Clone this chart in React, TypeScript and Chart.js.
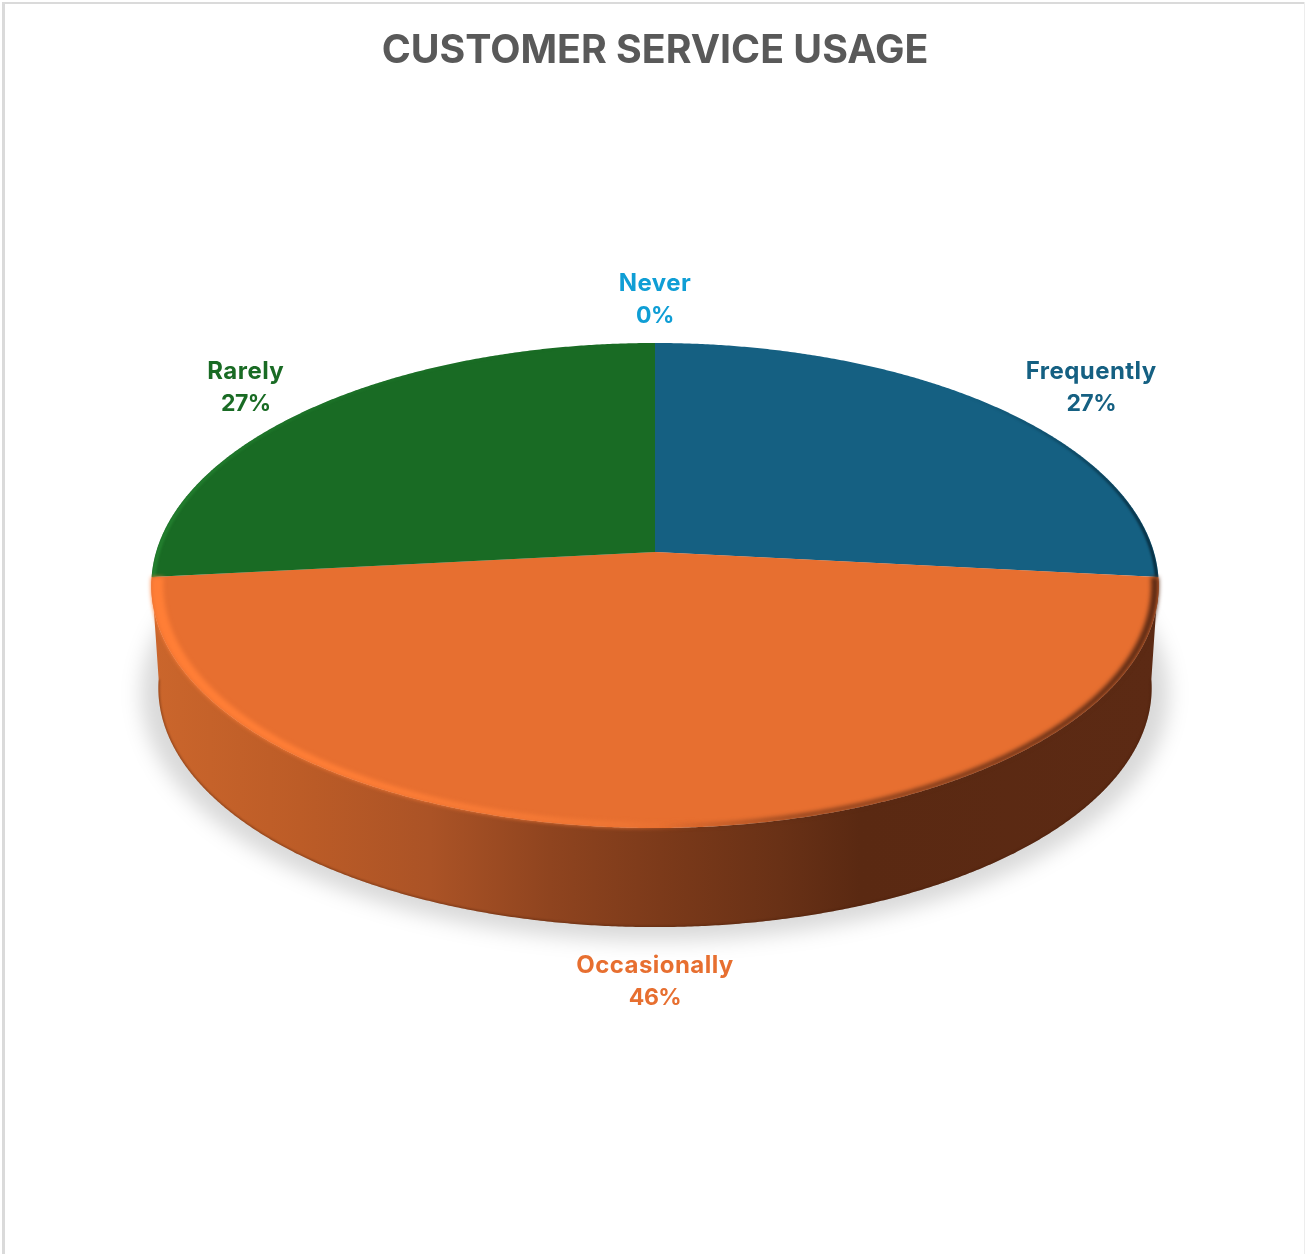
import React, { useEffect, useRef } from "react";
import { Chart, registerables } from "chart.js";

Chart.register(...registerables);

const titleText = "CUSTOMER SERVICE USAGE";
const categories = ["Frequently", "Occasionally", "Rarely", "Never"];
const shares = [27, 46, 27, 0];
const sliceColors = ["#156082", "#E76F30", "#196B24", "#0F9ED5"];

const FONT = "Inter";

// Tilted disc: the rim is an ellipse and the slices meet at an apex above its centre.
const DISC = { rx: 503.7, ry: 242.5, midY: 585.5, apexY: 552, flatten: 0.393 };
const WALL = { shrink: 0.986, drop: 102.5 };

type Pt = [number, number];

// Rim point for a pie angle: cast a ray from the apex to the ellipse.
function ringPoint(cx: number, theta: number, scale = 1, drop = 0): Pt {
  const dx = Math.cos(theta);
  const dy = DISC.flatten * Math.sin(theta);
  const oy = DISC.apexY - DISC.midY;
  const A = (dx * dx) / (DISC.rx * DISC.rx) + (dy * dy) / (DISC.ry * DISC.ry);
  const B = (2 * oy * dy) / (DISC.ry * DISC.ry);
  const C = (oy * oy) / (DISC.ry * DISC.ry) - 1;
  const t = (-B + Math.sqrt(B * B - 4 * A * C)) / (2 * A);
  const x = t * dx;
  const y = oy + t * dy;
  return [cx + x * scale, DISC.midY + y * scale + drop];
}

function ringSamples(cx: number, a: number, b: number, scale = 1, drop = 0): Pt[] {
  const steps = Math.max(2, Math.ceil(Math.abs(b - a) / 0.005));
  const pts: Pt[] = [];
  for (let i = 0; i <= steps; i++) pts.push(ringPoint(cx, a + ((b - a) * i) / steps, scale, drop));
  return pts;
}

function tracePolygon(ctx: CanvasRenderingContext2D, pts: Pt[], close = true) {
  ctx.beginPath();
  pts.forEach(([x, y], i) => (i ? ctx.lineTo(x, y) : ctx.moveTo(x, y)));
  if (close) ctx.closePath();
}

function hGradient(ctx: CanvasRenderingContext2D, stops: [number, string][]) {
  const x0 = stops[0][0];
  const x1 = stops[stops.length - 1][0];
  const g = ctx.createLinearGradient(x0, 0, x1, 0);
  stops.forEach(([x, c]) => g.addColorStop((x - x0) / (x1 - x0), c));
  return g;
}

// Draws the pie as a solid disc from the angles the doughnut controller computed.
const discPlugin = {
  id: "solidDisc",
  beforeDraw(chart: any) {
    const { ctx, width, height } = chart;
    ctx.save();
    ctx.fillStyle = "#FFFFFF";
    ctx.fillRect(0, 0, width, height);
    ctx.fillStyle = "#DADADA";
    ctx.fillRect(2, 2, width - 3, 2);
    ctx.fillRect(2, 2, 3, height - 2);
    ctx.fillStyle = "#EDEDED";
    ctx.fillRect(width - 2, 2, 1, height - 2);
    ctx.restore();
  },
  beforeDatasetsDraw(chart: any) {
    const { ctx } = chart;
    const arcs = chart.getDatasetMeta(0).data;
    const cx = arcs[0].x;
    const TAU = Math.PI * 2;

    // Soft cast shadow under the disc
    ctx.save();
    ctx.filter = "blur(10px)";
    ctx.fillStyle = "rgba(0,0,0,0.15)";
    tracePolygon(ctx, ringSamples(cx, 0, TAU, 1.02, 108));
    ctx.fill();
    ctx.restore();

    // Side wall of the front slice
    const front = arcs[1];
    const top = ringSamples(cx, front.startAngle, front.endAngle);
    const low = ringSamples(cx, front.endAngle, front.startAngle, WALL.shrink, WALL.drop);
    ctx.fillStyle = hGradient(ctx, [
      [150, "#CB662C"],
      [300, "#BC5C27"],
      [430, "#AB5326"],
      [550, "#8F441F"],
      [660, "#7C3A1A"],
      [780, "#693116"],
      [860, "#5A2912"],
      [1160, "#5C2A14"],
    ]);
    tracePolygon(ctx, [...top, ...low]);
    ctx.fill();
    // darker seam along the foot of the wall
    ctx.save();
    tracePolygon(ctx, [...top, ...low]);
    ctx.clip();
    ctx.filter = "blur(1px)";
    ctx.strokeStyle = "rgba(70,28,8,0.5)";
    ctx.lineWidth = 2;
    tracePolygon(ctx, low, false);
    ctx.stroke();
    ctx.restore();

    // Top face
    arcs.forEach((arc: any, i: number) => {
      if (arc.endAngle - arc.startAngle < 1e-6) return;
      const apex: Pt = [cx, DISC.apexY];
      ctx.fillStyle = sliceColors[i];
      tracePolygon(ctx, [apex, ...ringSamples(cx, arc.startAngle, arc.endAngle)]);
      ctx.fill();
    });

    // Bevel on the edge of the top face
    const band = (a: number, b: number, inner: number, fill: any, blur: number, clip: boolean) => {
      ctx.save();
      if (clip) {
        tracePolygon(ctx, ringSamples(cx, 0, TAU));
        ctx.clip();
      }
      ctx.filter = `blur(${blur}px)`;
      ctx.fillStyle = fill;
      tracePolygon(ctx, [...ringSamples(cx, a, b), ...ringSamples(cx, b, a, inner)]);
      ctx.fill();
      ctx.restore();
    };
    const [freq, occ, rare] = arcs;
    band(
      freq.startAngle,
      freq.endAngle,
      0.993,
      hGradient(ctx, [
        [960, "rgba(8,50,70,0)"],
        [1060, "rgba(8,50,70,0.5)"],
        [1160, "rgba(6,42,60,1)"],
      ]),
      1.2,
      true,
    );
    band(
      rare.startAngle,
      rare.endAngle,
      0.992,
      hGradient(ctx, [
        [150, "#23802F"],
        [300, "rgba(35,128,47,0.5)"],
        [560, "rgba(35,128,47,0)"],
      ]),
      1.2,
      true,
    );
    band(
      occ.startAngle,
      occ.endAngle,
      0.976,
      hGradient(ctx, [
        [150, "#FF7E36"],
        [350, "#FF7E36"],
        [500, "#F87B36"],
        [620, "#EF7634"],
        [700, "rgba(231,111,48,0)"],
        [1160, "rgba(231,111,48,0)"],
      ]),
      2,
      false,
    );
    band(
      occ.startAngle,
      occ.endAngle,
      0.985,
      hGradient(ctx, [
        [660, "rgba(92,42,20,0)"],
        [800, "rgba(92,42,20,0.75)"],
        [1000, "rgba(92,42,20,0.95)"],
        [1160, "rgba(92,42,20,1)"],
      ]),
      2.2,
      false,
    );
    return false;
  },
  // Skipping the datasets also skips afterDatasetsDraw, so the labels go here.
  afterDraw(chart: any) {
    const { ctx } = chart;
    const arcs = chart.getDatasetMeta(0).data;
    ctx.save();
    ctx.textAlign = "center";
    ctx.textBaseline = "middle";
    arcs.forEach((arc: any, i: number) => {
      const mid = (arc.startAngle + arc.endAngle) / 2;
      const [rx, ry] = ringPoint(arc.x, mid);
      const u = Math.cos(mid);
      const v = Math.sin(mid);
      const pct = `${shares[i]}%`;
      ctx.font = `bold 24px ${FONT}`;
      ctx.letterSpacing = "0.45px";
      const nameWidth = ctx.measureText(categories[i]).width;
      // side labels hang off the rim by their inner edge; top and bottom ones are centred
      const x = rx + (Math.abs(u) > 0.1 ? Math.sign(u) * (nameWidth / 2 - 2.5) : 0);
      const y = ry + (v > 0 ? v * 154 : -43 * Math.sqrt(-v));
      ctx.fillStyle = sliceColors[i];
      ctx.fillText(categories[i], x, y - 16);
      ctx.font = `bold 23px ${FONT}`;
      ctx.letterSpacing = "-0.5px";
      ctx.fillText(pct, x, y + 16);
    });
    ctx.restore();
  },
};

export default function App() {
  const ref = useRef<HTMLCanvasElement>(null);
  useEffect(() => {
    if (!ref.current) return;
    const chart = new Chart(ref.current, {
      type: "pie",
      data: {
        labels: categories,
        datasets: [{ data: shares, backgroundColor: sliceColors, borderWidth: 0 }],
      },
      options: {
        responsive: false,
        animation: false,
        layout: { padding: { left: 4 } },
        plugins: {
          legend: { display: false },
          tooltip: { enabled: false },
          title: {
            display: true,
            text: titleText,
            color: "#595959",
            font: { family: FONT, size: 39.3, weight: "bold" },
            padding: { top: 28, bottom: 10 },
          },
        },
      },
      plugins: [discPlugin],
    } as any);
    return () => chart.destroy();
  }, []);
  return (
    <div style={{ position: "fixed", left: 0, top: 0, width: 1306, height: 1254 }}>
      <canvas ref={ref} width={1306} height={1254} style={{ display: "block" }} />
    </div>
  );
}
